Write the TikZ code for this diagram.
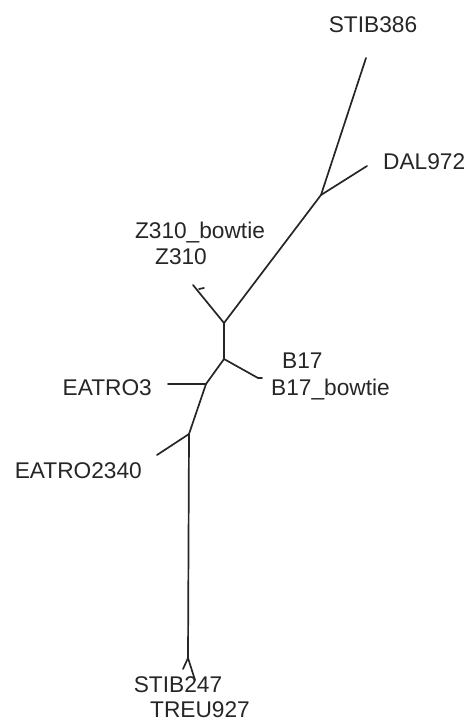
\documentclass[tikz,border=0pt]{standalone}
\usepackage{fontspec}
\setmainfont{Liberation Sans}
\begin{document}
\begin{tikzpicture}[x=1pt,y=-1pt,
  branch/.style={draw=black!85,line width=1.7pt,line cap=round},
  lbl/.style={font=\fontsize{22.7}{24}\selectfont,text=black!85,inner sep=0pt}]
\useasboundingbox (0,0) rectangle (471,722);
% internal junctions
\coordinate (jD) at (321,195);
\coordinate (jZ) at (224,323);
\coordinate (jB) at (224,359);
\coordinate (jE) at (206,384);
\coordinate (jE2) at (189,434);
\coordinate (jT) at (188,658);
% tips
\coordinate (tS386) at (366,58);
\coordinate (tD) at (367,166);
\coordinate (tZ) at (193,285);
\coordinate (tZb) at (199,289);
\coordinate (tB) at (258,378);
\coordinate (tE3) at (168,384);
\coordinate (tE2) at (157,455);
\coordinate (tS247) at (183,669);
\coordinate (tT) at (195,680);
% branches
\draw[branch] (tS386) -- (jD);
\draw[branch] (tD) -- (jD);
\draw[branch] (jD) -- (jZ);
\draw[branch] (jZ) -- (tZ);
\draw[branch] (tZb) -- ++(5,-1);
\draw[branch] (jZ) -- (jB);
\draw[branch] (jB) -- (tB);
\draw[branch] (tB) -- ++(4,0);
\draw[branch] (jB) -- (jE);
\draw[branch] (jE) -- (tE3);
\draw[branch] (jE) -- (jE2);
\draw[branch] (jE2) -- (tE2);
\draw[branch] (jE2) -- (jT);
\draw[branch] (jT) -- (tS247);
\draw[branch] (jT) -- (tT);
% labels
\node[lbl,anchor=base] (lS386) at (373,33) {STIB386};
\node[lbl,anchor=base west] (lD) at (383,170) {DAL972};
\node[lbl,anchor=base] (lZb) at (200,238) {Z310\_bowtie};
\node[lbl,anchor=base] (lZ) at (181,264) {Z310};
\node[lbl,anchor=base west] (lB) at (282,368) {B17};
\node[lbl,anchor=base west] (lBb) at (271,395) {B17\_bowtie};
\node[lbl,anchor=base east] (lE3) at (152,395) {EATRO3};
\node[lbl,anchor=base east] (lE2) at (142,478) {EATRO2340};
\node[lbl,anchor=base] (lS247) at (178,692) {STIB247};
\node[lbl,anchor=base] (lT) at (200,717) {TREU927};
\end{tikzpicture}
\end{document}
